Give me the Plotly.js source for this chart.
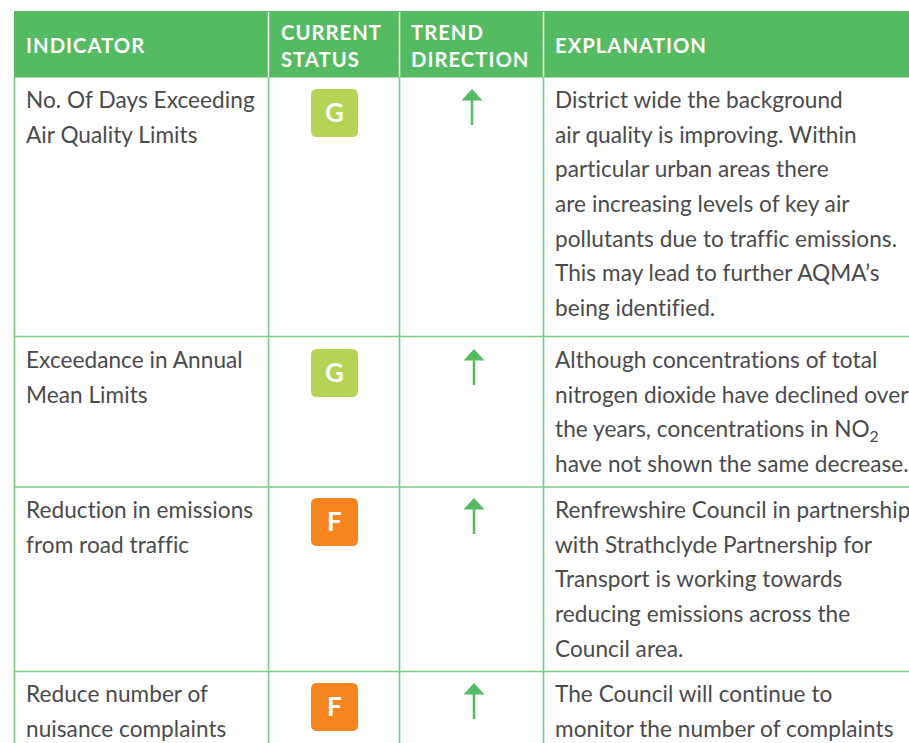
<!DOCTYPE html>
<html><head><meta charset="utf-8">
<script src="https://cdn.plot.ly/plotly-3.0.1.min.js"></script>
<style>html,body{margin:0;padding:0;background:#fff;overflow:hidden} .annotation-text{letter-spacing:0.05px;font-variant-ligatures:none}</style>
</head><body><div id="chart" style="width:909px;height:743px"></div>
<script>
const headers = [["INDICATOR"],["CURRENT","STATUS"],["TREND","DIRECTION"],["EXPLANATION"]];
const indicators = [
 ["No. Of Days Exceeding","Air Quality Limits"],
 ["Exceedance in Annual","Mean Limits"],
 ["Reduction in emissions","from road traffic"],
 ["Reduce number of","nuisance complaints"]];
const statuses = ["G","G","F","F"];
const explanations = [
 ["District wide the background","air quality is improving. Within","particular urban areas there","are increasing levels of key air","pollutants due to traffic emissions.","This may lead to further AQMA’s","being identified."],
 ["Although concentrations of total","nitrogen dioxide have declined over","the years, concentrations in NO<sub>2</sub>","have not shown the same decrease."],
 ["Renfrewshire Council in partnership","with Strathclyde Partnership for","Transport is working towards","reducing emissions across the","Council area."],
 ["The Council will continue to","monitor the number of complaints"]];

const statusColor = {G:"#b5d455",F:"#f6851f"};
const green="#55bb62", rule="#7ccc86", ink="#4a4a4c";
const colEdges=[14.5,268.5,399.5,543.5];
const textX=[25,280.2,410.2,553.5];
const rowLines=[336.5,487,671.5];
const firstLine=[84.9,344.9,494.9,678.9];
const arrowX=[472,474,474,474];
const badgeTop=[89,349,498,683];
const lineStep=34.65, FONT="Lato, 'Noto Sans', sans-serif", size=22.6;

const shapes=[], annotations=[];
shapes.push({type:"rect",x0:14,x1:909,y0:11,y1:77.5,fillcolor:green,line:{width:0}});
colEdges.forEach((x,i)=>{
  if(i>0) shapes.push({type:"line",x0:x,x1:x,y0:12,y1:77,line:{color:"#ffffff",width:1.5}});
  shapes.push({type:"line",x0:x,x1:x,y0:77,y1:743,line:{color:rule,width:1.7}});
});
rowLines.forEach(y=>shapes.push({type:"line",x0:14,x1:909,y0:y,y1:y,line:{color:rule,width:1.7}}));

function txt(x,y,t,o={}){annotations.push(Object.assign({x,y,text:t,xref:"x",yref:"y",showarrow:false,xanchor:"left",yanchor:"top",align:"left",borderpad:0,font:{family:FONT,size,color:ink}},o));}

const hdrFont={family:FONT,size:20.3,color:"#ffffff"};
const hdr=t=>`<span style="letter-spacing:1px"><b>${t}</b></span>`;
headers.forEach((h,c)=>{
  const ys=h.length===1?[32]:[18.5,45.5];
  h.forEach((t,i)=>txt(textX[c],ys[i],hdr(t),{font:hdrFont}));
});
const badgeW=47,badgeH=48,badgeL=311,r=6;
statuses.forEach((s,i)=>{
  const x0=badgeL,x1=badgeL+badgeW,y0=badgeTop[i],y1=y0+badgeH;
  shapes.push({type:"path",fillcolor:statusColor[s],line:{width:0},
    path:`M${x0+r},${y0}L${x1-r},${y0}Q${x1},${y0} ${x1},${y0+r}L${x1},${y1-r}Q${x1},${y1} ${x1-r},${y1}L${x0+r},${y1}Q${x0},${y1} ${x0},${y1-r}L${x0},${y0+r}Q${x0},${y0} ${x0+r},${y0}Z`});
  txt(x0+badgeW/2,y0+badgeH/2-0.8,"<b>"+s+"</b>",{xanchor:"center",yanchor:"middle",font:{family:FONT,size:26,color:"#ffffff"}});
  indicators[i].forEach((t,j)=>txt(textX[0],firstLine[i]+j*lineStep,t));
  explanations[i].forEach((t,j)=>txt(textX[3],firstLine[i]+j*lineStep,t));
  const top=badgeTop[i];
  shapes.push({type:"line",x0:arrowX[i],x1:arrowX[i],y0:top+10,y1:top+36,line:{color:green,width:2.5}});
  shapes.push({type:"path",path:`M${arrowX[i]},${top}L${arrowX[i]+10.5},${top+11.5}L${arrowX[i]-10.5},${top+11.5}Z`,fillcolor:green,line:{width:0}});
});

Plotly.newPlot("chart",[{type:"scatter",x:[],y:[],hoverinfo:"skip"}],{
  width:909,height:743,margin:{l:0,r:0,t:0,b:0},paper_bgcolor:"#fff",plot_bgcolor:"#fff",showlegend:false,
  xaxis:{range:[0,909],visible:false,fixedrange:true},
  yaxis:{range:[743,0],visible:false,fixedrange:true},
  shapes,annotations
},{displayModeBar:false,staticPlot:true});
</script></body></html>
